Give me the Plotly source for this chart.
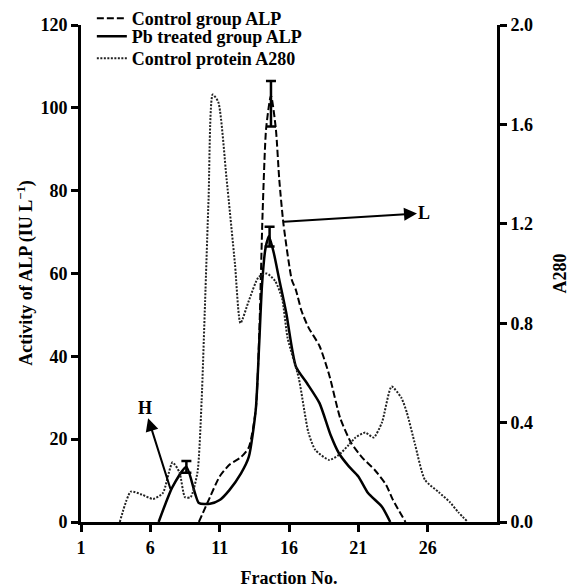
import plotly.graph_objects as go

# ---- data ----
ctrl_x = [9.5, 10.3, 11.0, 11.7, 12.55, 13.1, 13.6, 13.85, 14.1, 14.35, 14.7, 15.05, 15.3, 15.6,
          16.2, 16.5, 16.9, 17.4, 18.2, 18.9, 19.7, 20.5, 21.3, 22.2, 23.0, 23.5, 24.4]
ctrl_y = [0, 6, 11, 13.8, 15.7, 18, 27, 45, 75, 95, 103, 95, 82.6, 72,
          58.5, 56, 51, 47, 42.5, 35.5, 25, 19, 15.5, 12.5, 9, 5.3, 0]

pb_x = [6.6, 7.6, 8.6, 9.5, 10.3, 11.0, 11.7, 12.55, 13.1, 13.6, 13.85, 14.05, 14.3, 14.55, 14.9,
        15.3, 15.8, 16.5, 17.3, 18.2, 19.0, 19.6, 20.3, 21.0, 21.7, 22.7, 23.3]
pb_y = [0, 8.5, 13.3, 4.6, 4.4, 5.3, 7.7, 11.8, 15.7, 27, 43, 57, 66, 69, 65,
        58.5, 50.5, 37.5, 33.5, 28.7, 21, 16.6, 13.5, 11, 7, 3.7, 0]

a280_x = [3.8, 4.6, 5.4, 6.2, 6.9, 7.6, 8.1, 8.5, 8.9, 9.4, 9.7, 9.95, 10.2, 10.5, 10.9, 11.5,
          12.1, 12.5, 13.1, 13.8, 14.4, 15.0, 15.5, 15.9, 16.7, 17.4, 17.9, 18.9, 19.6, 20.3,
          20.8, 21.5, 22.1, 22.7, 23.4, 24.1, 24.5, 25.1, 25.8, 26.8, 27.6, 28.2, 28.9]
a280_y = [0, 0.122, 0.11, 0.093, 0.116, 0.24, 0.2, 0.1, 0.1, 0.2, 0.49, 0.89, 1.3, 1.72, 1.69, 1.38,
          1.04, 0.80, 0.89, 0.985, 1.0, 0.97, 0.90, 0.74, 0.58, 0.36, 0.29, 0.25, 0.27, 0.31,
          0.34, 0.36, 0.34, 0.40, 0.545, 0.50, 0.44, 0.31, 0.17, 0.12, 0.08, 0.04, 0]

ctrl_err_x = [14.7]
ctrl_err_y = [101]
ctrl_err = [5.5]
pb_err_x = [8.6, 14.6]
pb_err_y = [13.3, 68.9]
pb_err = [1.4, 2.4]

x_ticks = [1, 6, 11, 16, 21, 26]
y_ticks = [0, 20, 40, 60, 80, 100, 120]
y2_ticks = [0, 0.4, 0.8, 1.2, 1.6, 2.0]

FONT = "Liberation Serif, Times New Roman, serif"


def bold(s):
    return "<b>" + s + "</b>"


tfont = dict(family=FONT, size=18, color="black")

fig = go.Figure()
fig.add_trace(go.Scatter(x=ctrl_x, y=ctrl_y, mode="lines", name=bold("Control group ALP"), legend="legend",
                         line=dict(color="black", width=2, dash="7px,3px", shape="spline", smoothing=0.6)))
fig.add_trace(go.Scatter(x=pb_x, y=pb_y, mode="lines", name=bold("Pb treated group ALP"), legend="legend2",
                         line=dict(color="black", width=2.5, shape="spline", smoothing=0.6)))
fig.add_trace(go.Scatter(x=a280_x, y=a280_y, mode="lines", name=bold("Control protein A280"), yaxis="y2",
                         legend="legend3",
                         line=dict(color="#222", width=2, dash="2px,1.5px", shape="spline", smoothing=0.6)))
fig.add_trace(go.Scatter(x=ctrl_err_x, y=ctrl_err_y, mode="markers", showlegend=False,
                         marker=dict(size=1, color="rgba(0,0,0,0)"),
                         error_y=dict(type="data", array=ctrl_err, color="black", thickness=2.5, width=5)))
fig.add_trace(go.Scatter(x=pb_err_x, y=pb_err_y, mode="markers", showlegend=False,
                         marker=dict(size=1, color="rgba(0,0,0,0)"),
                         error_y=dict(type="data", array=pb_err, color="black", thickness=2.5, width=5)))

# arrows with labels (head drawn at the label end)
fig.add_annotation(x=15.64, y=72.5, ax=25.7, ay=74.6, xref="x", yref="y", axref="x", ayref="y",
                   text=bold("L"), showarrow=True, arrowside="start", arrowhead=2, startarrowhead=2,
                   startarrowsize=1.3, arrowwidth=2, arrowcolor="black", font=tfont, borderpad=0)
fig.add_annotation(x=7.45, y=8.0, ax=5.6, ay=27.6, xref="x", yref="y", axref="x", ayref="y",
                   text=bold("H"), showarrow=True, arrowside="start", arrowhead=2, startarrowhead=2,
                   startarrowsize=1.3, arrowwidth=2, arrowcolor="black", font=tfont, borderpad=0)

# left axis title
fig.add_annotation(x=-0.134, y=0.5, xref="paper", yref="paper", textangle=-90, showarrow=False,
                   xanchor="center", yanchor="middle",
                   text=bold("Activity of ALP (IU L<sup>\u22121</sup>)"), font=tfont)

axis_common = dict(showline=True, linecolor="black", linewidth=3, ticks="outside", ticklen=7,
                   tickwidth=2.5, tickcolor="black", showgrid=False, zeroline=False,
                   tickfont=tfont)

leg_common = dict(xref="container", yref="container", x=0.160, xanchor="left", yanchor="top",
                  bgcolor="rgba(0,0,0,0)", font=tfont, itemwidth=30)

fig.update_layout(
    width=574, height=588,
    margin=dict(l=81, r=77, t=25, b=66, autoexpand=False),
    plot_bgcolor="white", paper_bgcolor="white",
    font=tfont,
    xaxis=dict(range=[1, 31], tickvals=x_ticks, ticktext=[bold(str(v)) for v in x_ticks],
               title=dict(text=bold("Fraction No."), standoff=20, font=tfont),
               **axis_common),
    yaxis=dict(range=[0, 120], tickvals=y_ticks, ticktext=[bold(str(v)) for v in y_ticks],
               **axis_common),
    yaxis2=dict(range=[0, 2], tickvals=y2_ticks, ticktext=[bold(f"{v:.1f}") for v in y2_ticks],
                overlaying="y", side="right",
                title=dict(text=bold("A280"), standoff=22, font=tfont),
                **axis_common),
    legend=dict(y=1.0068, **leg_common),
    legend2=dict(y=0.9694, **leg_common),
    legend3=dict(y=0.932, **leg_common),
    showlegend=True,
)

fig.write_html("out.html")
